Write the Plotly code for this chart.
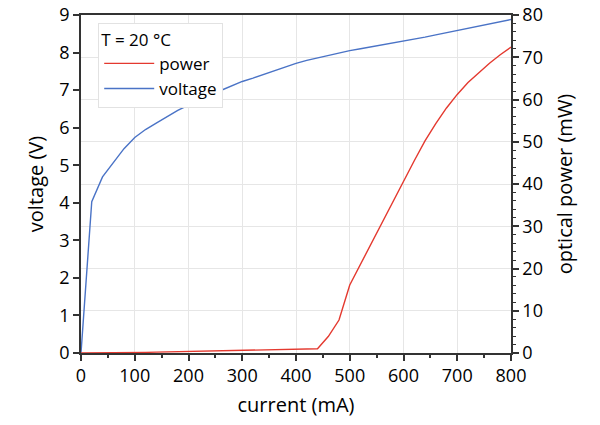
import plotly.graph_objects as go

current = [0, 20, 40, 60, 80, 100, 120, 140, 160, 180, 200, 220, 240, 260, 280, 300,
           320, 340, 360, 380, 400, 420, 440, 460, 480, 500, 520, 540, 560, 580, 600,
           620, 640, 660, 680, 700, 720, 740, 760, 780, 800]
voltage = [0, 4.03, 4.69, 5.08, 5.44, 5.74, 5.95, 6.12, 6.30, 6.46, 6.60, 6.74, 6.87,
           6.99, 7.11, 7.23, 7.32, 7.42, 7.51, 7.61, 7.71, 7.79, 7.86, 7.93, 7.99, 8.05,
           8.10, 8.15, 8.19, 8.24, 8.29, 8.35, 8.41, 8.47, 8.53, 8.59, 8.64, 8.70, 8.76,
           8.82, 8.88]
power = [0, 0, 0, 0.02, 0.05, 0.1, 0.15, 0.2, 0.25, 0.3, 0.35, 0.4, 0.45, 0.5, 0.55,
         0.6, 0.65, 0.7, 0.75, 0.82, 0.88, 0.92, 1.0, 3.9, 7.8, 16.1, 21.0, 26.0, 31.0,
         36.0, 40.9, 45.5, 50.2, 54.3, 58.0, 61.2, 64.0, 66.4, 68.6, 70.6, 72.4]

FONT = "Open Sans"
AX = "#333333"
GRID = "#e6e6e6"
fig = go.Figure()
fig.add_trace(go.Scatter(x=current, y=power, name="power", yaxis="y2", mode="lines",
                         line=dict(color="#e4392f", width=1.4)))
fig.add_trace(go.Scatter(x=current, y=voltage, name="voltage", yaxis="y", mode="lines",
                         line=dict(color="#4a73c6", width=1.4)))

fig.update_layout(
    template="none",
    width=600, height=425,
    margin=dict(l=81, r=89, t=15, b=72),
    paper_bgcolor="white", plot_bgcolor="white",
    font=dict(family=FONT, size=18, color="black"),
    showlegend=True,
    legend=dict(
        title=dict(text="T = 20 °C", font=dict(size=17)),
        x=0.04, y=0.977, xanchor="left", yanchor="top",
        bgcolor="white", bordercolor="#e2e2e2", borderwidth=1,
        font=dict(size=17), itemwidth=50, tracegroupgap=0,
    ),
    xaxis=dict(
        range=[0, 800], dtick=100, tick0=0,
        title=dict(text="current (mA)", font=dict(size=20), standoff=12),
        showline=True, linecolor=AX, linewidth=1.5, mirror=True,
        ticks="outside", ticklen=6, tickwidth=1.5, tickcolor=AX,
        minor=dict(dtick=50, ticks="outside", ticklen=3, tickwidth=1.5, tickcolor=AX, showgrid=False),
        showgrid=True, gridcolor=GRID, gridwidth=1, zeroline=False,
    ),
    yaxis=dict(
        range=[0, 9], dtick=1,
        title=dict(text="voltage (V)", font=dict(size=20), standoff=10),
        showline=True, linecolor=AX, linewidth=1.5,
        ticks="outside", ticklen=6, tickwidth=1.5, tickcolor=AX,
        showgrid=False, zeroline=False,
    ),
    yaxis2=dict(
        range=[0, 80], dtick=10, overlaying="y", side="right",
        title=dict(text="optical power (mW)", font=dict(size=20), standoff=16),
        showline=True, linecolor=AX, linewidth=1.5,
        ticks="outside", ticklen=6, tickwidth=1.5, tickcolor=AX,
        minor=dict(dtick=2, ticks="outside", ticklen=3, tickwidth=1.2, tickcolor=AX, showgrid=False),
        showgrid=True, gridcolor=GRID, gridwidth=1, zeroline=False,
    ),
)
fig.write_html("out.html")
